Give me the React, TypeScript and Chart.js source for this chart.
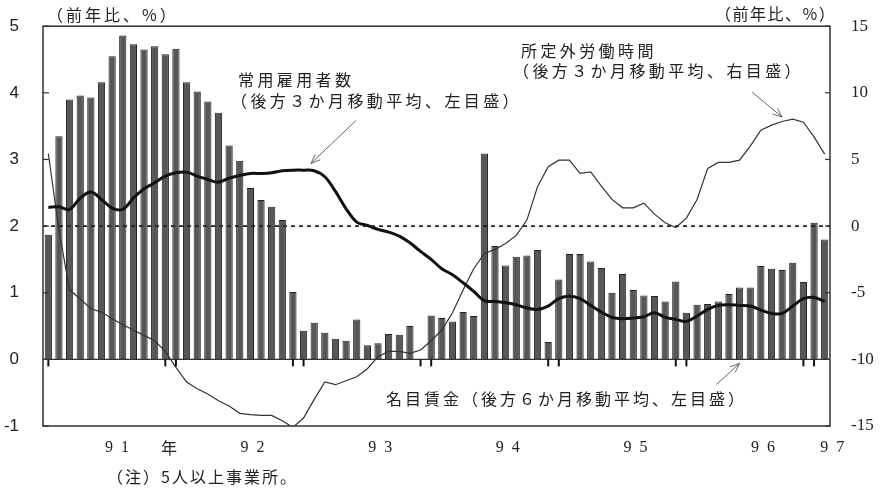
import React, { useEffect, useRef } from 'react';
import { Chart, registerables } from 'chart.js';

Chart.register(...registerables);

// 1991/01 .. 1997/02, monthly
const months = [
  '1991/01','1991/02','1991/03','1991/04','1991/05','1991/06','1991/07','1991/08','1991/09','1991/10','1991/11','1991/12',
  '1992/01','1992/02','1992/03','1992/04','1992/05','1992/06','1992/07','1992/08','1992/09','1992/10','1992/11','1992/12',
  '1993/01','1993/02','1993/03','1993/04','1993/05','1993/06','1993/07','1993/08','1993/09','1993/10','1993/11','1993/12',
  '1994/01','1994/02','1994/03','1994/04','1994/05','1994/06','1994/07','1994/08','1994/09','1994/10','1994/11','1994/12',
  '1995/01','1995/02','1995/03','1995/04','1995/05','1995/06','1995/07','1995/08','1995/09','1995/10','1995/11','1995/12',
  '1996/01','1996/02','1996/03','1996/04','1996/05','1996/06','1996/07','1996/08','1996/09','1996/10','1996/11','1996/12',
  '1997/01','1997/02',
];

// 名目賃金 (left axis, %)
const nominalWage = [
  1.87, 3.35, 3.90, 3.96, 3.93, 4.16, 4.55, 4.86, 4.73, 4.65, 4.70, 4.58,
  4.66, 4.16, 4.02, 3.87, 3.70, 3.21, 2.98, 2.57, 2.39, 2.29, 2.09, 1.01,
  0.43, 0.55, 0.40, 0.31, 0.28, 0.60, 0.21, 0.24, 0.38, 0.37, 0.50, null,
  0.66, 0.62, 0.57, 0.71, 0.65, 3.09, 1.70, 1.41, 1.54, 1.56, 1.64, 0.26,
  1.20, 1.58, 1.58, 1.47, 1.37, 1.00, 1.28, 1.04, 0.96, 0.95, 0.87, 1.17,
  0.70, 0.82, 0.83, 0.87, 0.98, 1.08, 1.08, 1.40, 1.36, 1.34, 1.45, 1.16,
  2.05, 1.80,
];

// 常用雇用者数 (left axis, %)
const regularEmployees = [
  2.28, 2.29, 2.25, 2.42, 2.51, 2.40, 2.27, 2.25, 2.42, 2.56, 2.65, 2.75,
  2.80, 2.81, 2.75, 2.70, 2.66, 2.72, 2.76, 2.79, 2.79, 2.80, 2.83, 2.84,
  2.84, 2.83, 2.74, 2.52, 2.26, 2.06, 2.01, 1.95, 1.91, 1.85, 1.75, 1.62,
  1.50, 1.36, 1.27, 1.15, 1.02, 0.88, 0.87, 0.85, 0.82, 0.77, 0.75, 0.80,
  0.91, 0.95, 0.91, 0.81, 0.71, 0.63, 0.61, 0.62, 0.64, 0.70, 0.63, 0.60,
  0.57, 0.65, 0.75, 0.81, 0.82, 0.81, 0.80, 0.74, 0.69, 0.69, 0.80, 0.91,
  0.93, 0.87,
];

// 所定外労働時間 (right axis, %)
const overtimeHours = [
  5.45, -0.3, -4.8, -5.45, -6.2, -6.45, -6.95, -7.4, -7.8, -8.2, -8.6, -9.4,
  -10.6, -11.7, -12.2, -12.6, -13.1, -13.5, -14.05, -14.15, -14.2, -14.2, -14.6, -15.1,
  -14.4, -13.0, -11.7, -11.9, -11.6, -11.3, -10.7, -9.8, -9.4, -9.4, -9.55, -9.3,
  -8.6, -7.8, -6.5, -4.8, -3.2, -2.05, -1.75, -1.3, -0.7, 0.45, 2.95, 4.45,
  4.95, 4.95, 3.95, 4.07, 3.0, 2.0, 1.37, 1.37, 1.72, 0.9, 0.25, -0.1,
  0.6, 2.0, 4.33, 4.78, 4.78, 4.95, 6.0, 7.2, 7.58, 7.85, 8.03, 7.8,
  6.7, 5.4,
];

const leftMin = -1, leftMax = 5, leftStep = 1;
const rightMin = -15, rightMax = 15, rightStep = 5;
const refLineLeft = 2; // dashed reference (= 0 on right axis)

const yearLabels = ['9  1', '9  2', '9  3', '9  4', '9  5', '9  6', '9  7'];
const yearLabelAt = [6.46, 19.2, 31.2, 43.2, 55.2, 67.2, 73.7];
const yearSuffix = '年';
const yearSuffixAt = 11.35;
const yearMarkIdx = [0, 11, 12, 23, 24, 35, 36, 47, 48, 59, 60, 71, 72];

const TXT = '#222';
const CJK = '"Noto Sans CJK JP", sans-serif';

const decor = {
  id: 'decor',
  afterDatasetsDraw(chart: any) {
    const { ctx, chartArea: a, scales } = chart;
    const x = scales.x, yl = scales.y, yr = scales.y1;
    ctx.save();
    // dashed reference line
    const yd = yl.getPixelForValue(refLineLeft);
    ctx.strokeStyle = '#222';
    ctx.lineWidth = 1.8;
    ctx.setLineDash([4, 4]);
    ctx.beginPath(); ctx.moveTo(a.left, yd); ctx.lineTo(a.right, yd); ctx.stroke();
    ctx.setLineDash([]);
    // zero baseline
    const y0 = yl.getPixelForValue(0);
    ctx.lineWidth = 1.3;
    ctx.strokeStyle = '#333';
    ctx.beginPath(); ctx.moveTo(a.left, y0); ctx.lineTo(a.right, y0); ctx.stroke();
    // month marks below baseline
    ctx.lineWidth = 2;
    ctx.strokeStyle = '#111';
    yearMarkIdx.forEach((i) => {
      const px = x.getPixelForValue(i);
      ctx.beginPath(); ctx.moveTo(px, y0); ctx.lineTo(px, y0 + 7); ctx.stroke();
    });
    // frame
    ctx.lineWidth = 1.5;
    ctx.strokeStyle = '#333';
    ctx.strokeRect(a.left, a.top, a.right - a.left, a.bottom - a.top);
    // inward ticks
    ctx.lineWidth = 1.2;
    for (let v = leftMin; v <= leftMax; v += leftStep) {
      const py = yl.getPixelForValue(v);
      ctx.beginPath(); ctx.moveTo(a.left, py); ctx.lineTo(a.left + 6, py); ctx.stroke();
    }
    for (let v = rightMin; v <= rightMax; v += rightStep) {
      const py = yr.getPixelForValue(v);
      ctx.beginPath(); ctx.moveTo(a.right, py); ctx.lineTo(a.right - 5, py); ctx.stroke();
    }

    // year labels
    ctx.fillStyle = TXT;
    ctx.textBaseline = 'middle';
    ctx.textAlign = 'center';
    ctx.font = '16px "Liberation Serif", serif';
    const yLab = a.bottom + 22;
    yearLabels.forEach((t, k) => {
      ctx.fillText(t, x.getPixelForValue(yearLabelAt[k]), yLab);
    });
    ctx.font = '16px ' + CJK;
    ctx.fillText(yearSuffix, x.getPixelForValue(yearSuffixAt), yLab);

    // texts
    ctx.textAlign = 'left';
    const put = (t: string, px: number, py: number, sp: number, size = 16) => {
      ctx.font = size + 'px ' + CJK;
      (ctx as any).letterSpacing = sp + 'px';
      ctx.fillText(t, px, py);
    };
    put('（前年比、%）', 47, 15, 3);
    put('（前年比、%）', 715, 14, 1.5);
    put('常用雇用者数', 238, 80, 3.4);
    put('（後方３か月移動平均、左目盛）', 231, 101, 3.4);
    put('所定外労働時間', 521, 51, 3.4);
    put('（後方３か月移動平均、右目盛）', 513, 71, 3.4);
    put('名目賃金（後方６か月移動平均、左目盛）', 386, 399, 3);
    put('（注）5人以上事業所。', 107, 477, 2);
    (ctx as any).letterSpacing = '0px';

    // arrows (tips anchored to data scales)
    const arrow = (tx: number, ty: number, dx: number, dy: number) => {
      const sx = tx + dx, sy = ty + dy;
      ctx.strokeStyle = '#666';
      ctx.lineWidth = 1;
      ctx.beginPath(); ctx.moveTo(sx, sy); ctx.lineTo(tx, ty); ctx.stroke();
      const ang = Math.atan2(ty - sy, tx - sx);
      const L = 10, w = 0.38;
      ctx.beginPath();
      ctx.moveTo(tx - L * Math.cos(ang - w), ty - L * Math.sin(ang - w));
      ctx.lineTo(tx, ty);
      ctx.lineTo(tx - L * Math.cos(ang + w), ty - L * Math.sin(ang + w));
      ctx.stroke();
    };
    arrow(x.getPixelForValue(24.7), yl.getPixelForValue(2.94), 45, -43);
    arrow(x.getPixelForValue(69.0), yr.getPixelForValue(8.18), -30, -25);
    arrow(x.getPixelForValue(65.0), yl.getPixelForValue(-0.06), -23, 21);
    ctx.restore();
  },
};

export default function App() {
  const ref = useRef<HTMLCanvasElement>(null);
  useEffect(() => {
    const chart = new Chart(ref.current as HTMLCanvasElement, {
      type: 'bar',
      data: {
        labels: months,
        datasets: [
          {
            type: 'line',
            label: '常用雇用者数',
            data: regularEmployees,
            yAxisID: 'y',
            borderColor: '#111',
            borderWidth: 3,
            pointRadius: 0,
            tension: 0.35,
            order: 1,
          } as any,
          {
            type: 'line',
            label: '所定外労働時間',
            data: overtimeHours,
            yAxisID: 'y1',
            borderColor: '#333',
            borderWidth: 1.2,
            pointRadius: 0,
            tension: 0,
            order: 2,
          } as any,
          {
            type: 'bar',
            label: '名目賃金',
            data: nominalWage,
            yAxisID: 'y',
            backgroundColor: '#575757',
            borderColor: '#222',
            borderWidth: 1,
            barPercentage: 0.68,
            categoryPercentage: 1,
            order: 3,
          } as any,
        ],
      },
      options: {
        responsive: false,
        animation: false,
        devicePixelRatio: 1,
        layout: { padding: { top: 26, left: 0, right: 0, bottom: 0 } },
        plugins: { legend: { display: false }, tooltip: { enabled: false } },
        scales: {
          x: {
            offset: true,
            grid: { display: false },
            border: { display: false },
            ticks: { display: false },
            afterFit: (s: any) => { s.height = 66; },
          },
          y: {
            position: 'left',
            min: leftMin,
            max: leftMax,
            grid: { display: false },
            border: { display: false },
            ticks: {
              stepSize: leftStep,
              padding: 16,
              color: TXT,
              font: { family: '"Liberation Sans", sans-serif', size: 17 },
            },
            afterFit: (s: any) => { s.width = 43; },
          },
          y1: {
            position: 'right',
            min: rightMin,
            max: rightMax,
            grid: { display: false },
            border: { display: false },
            ticks: {
              stepSize: rightStep,
              padding: 13,
              color: TXT,
              font: { family: '"Liberation Serif", serif', size: 17 },
            },
            afterFit: (s: any) => { s.width = 52; },
          },
        },
      },
      plugins: [decor],
    } as any);
    return () => chart.destroy();
  }, []);
  return (
    <div style={{ position: 'absolute', left: 0, top: 0, width: 882, height: 492, background: '#fff' }}>
      <canvas ref={ref} width={882} height={492} style={{ display: 'block' }} />
    </div>
  );
}
